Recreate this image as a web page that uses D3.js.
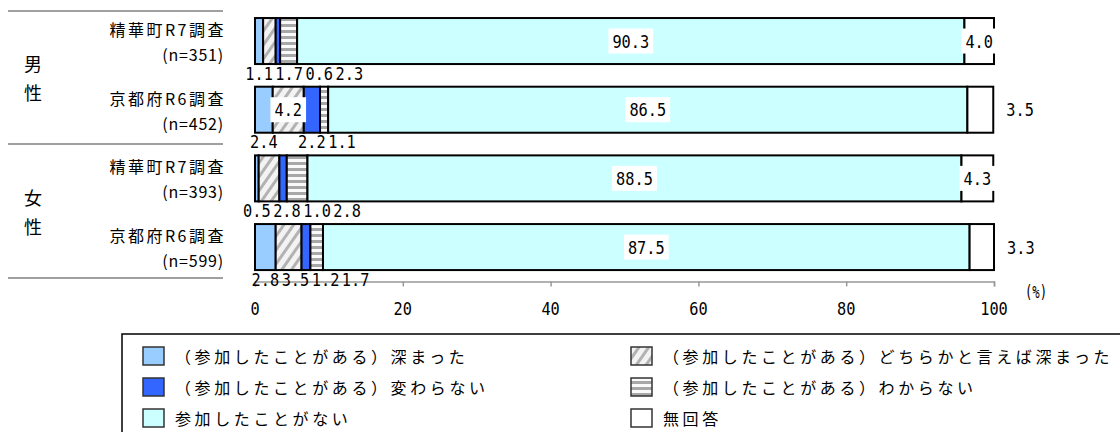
<!DOCTYPE html>
<html>
<head>
<meta charset="utf-8">
<script src="https://cdn.jsdelivr.net/npm/d3@7"></script>
<style>
  body { margin: 0; background: #fff; }
  svg { display: block; }
</style>
</head>
<body>
<div id="chart"></div>
<script>
var groups = ["男性", "女性"];
var categories = ["精華町R7調査", "京都府R6調査", "精華町R7調査", "京都府R6調査"];
var sampleSizes = ["(n=351)", "(n=452)", "(n=393)", "(n=599)"];
var seriesNames = [
  "（参加したことがある）深まった",
  "（参加したことがある）どちらかと言えば深まった",
  "（参加したことがある）変わらない",
  "（参加したことがある）わからない",
  "参加したことがない",
  "無回答"
];
var deepened         = [1.1, 2.4, 0.5, 2.8];
var somewhatDeepened = [1.7, 4.2, 2.8, 3.5];
var unchanged        = [0.6, 2.2, 1.0, 1.2];
var unknown          = [2.3, 1.1, 2.8, 1.7];
var neverJoined      = [90.3, 86.5, 88.5, 87.5];
var noAnswer         = [4.0, 3.5, 4.3, 3.3];
var xTicks = [0, 20, 40, 60, 80, 100];

var NUM_FONT = "'DejaVu Sans Mono', 'Liberation Mono', monospace";
var JP_FONT = "'Noto Sans CJK JP', 'Noto Sans', sans-serif";
var CHAR_W = 9.2; // half-width cell of the numeric labels

// tall, narrow digits like the original gothic font
var numText = function(sel, str) {
  return sel.style("font-family", NUM_FONT)
            .style("font-size", "18px")
            .attr("dominant-baseline", "central")
            .attr("fill", "#000")
            .attr("textLength", str.length * CHAR_W)
            .attr("lengthAdjust", "spacingAndGlyphs")
            .text(str);
};

var draw = function() {
  var width = 1120, height = 432;
  var series = [deepened, somewhatDeepened, unchanged, unknown, neverJoined, noAnswer];
  var fills = ["#99ccff", "url(#diag)", "#3366ff", "url(#hstripe)", "#ccffff", "#ffffff"];

  var svg = d3.select("#chart").append("svg")
              .attr("width", width)
              .attr("height", height);

  // patterns for the two hatched series
  var defs = svg.append("defs");
  var diag = defs.append("pattern")
                 .attr("id", "diag")
                 .attr("patternUnits", "userSpaceOnUse")
                 .attr("width", 8).attr("height", 8)
                 .attr("patternTransform", "rotate(35)");
  diag.append("rect").attr("width", 8).attr("height", 8).attr("fill", "#f3f3f3");
  diag.append("rect").attr("width", 3).attr("height", 8).attr("fill", "#b2b2b2");
  var hs = defs.append("pattern")
               .attr("id", "hstripe")
               .attr("patternUnits", "userSpaceOnUse")
               .attr("width", 6).attr("height", 6);
  hs.append("rect").attr("width", 6).attr("height", 6).attr("fill", "#fafafa");
  hs.append("rect").attr("width", 6).attr("height", 3).attr("fill", "#a8a8a8");

  var x = d3.scaleLinear().domain([0, 100]).range([255, 994]);
  var y = d3.scaleBand()
            .domain(d3.range(categories.length))
            .range([6.7, 281.4])
            .paddingInner(0.33)
            .paddingOuter(0.165);
  var bw = y.bandwidth();

  var rows = categories.map(function(c, i) {
    var r = {};
    series.forEach(function(s, j) { r[j] = s[i]; });
    return r;
  });
  var stacked = d3.stack().keys(d3.range(series.length))(rows);

  // bars
  svg.append("g").selectAll("g")
    .data(stacked)
    .join("g")
      .attr("fill", function(d, j) { return fills[j]; })
    .selectAll("rect")
    .data(function(d) { return d; })
    .join("rect")
      .attr("x", function(d) { return x(d[0]); })
      .attr("y", function(d, i) { return y(i); })
      .attr("width", function(d) { return x(d[1]) - x(d[0]); })
      .attr("height", bw)
      .attr("stroke", "#000")
      .attr("stroke-width", 2);

  // separators on the left
  var sepY = [y(0) - 7, (y(1) + bw + y(2)) / 2, y(3) + bw + 8];
  svg.append("g").selectAll("line")
    .data(sepY)
    .join("line")
      .attr("x1", 8).attr("x2", 223)
      .attr("y1", function(d) { return d; })
      .attr("y2", function(d) { return d; })
      .attr("stroke", "#808080")
      .attr("stroke-width", 1.5);

  // group labels, written vertically
  groups.forEach(function(g, k) {
    var cy = (sepY[k] + sepY[k + 1]) / 2;
    svg.append("g").selectAll("text")
      .data(g.split(""))
      .join("text")
        .attr("x", 33)
        .attr("y", function(d, n) { return cy + (n - 0.5) * 29; })
        .attr("text-anchor", "middle")
        .attr("dominant-baseline", "central")
        .style("font-family", JP_FONT)
        .style("font-size", "18px")
        .attr("fill", "#000")
        .text(function(d) { return d; });
  });

  // category labels
  categories.forEach(function(c, i) {
    var cy = y(i) + bw / 2;
    svg.append("text")
       .attr("x", 226).attr("y", cy - 12)
       .attr("text-anchor", "end")
       .attr("dominant-baseline", "central")
       .style("font-family", JP_FONT)
       .style("font-size", "16px")
       .style("letter-spacing", "2.5px")
       .text(c);
    svg.append("text")
       .attr("x", 224).attr("y", cy + 13)
       .attr("text-anchor", "end")
       .attr("dominant-baseline", "central")
       .style("font-family", JP_FONT)
       .style("font-size", "16px")
       .style("letter-spacing", "0.8px")
       .text(sampleSizes[i]);
  });

  // axis
  var axisY = y.range()[1];
  var axis = svg.append("g")
                .attr("transform", "translate(0," + axisY + ")")
                .call(d3.axisBottom(x).tickValues(xTicks).tickSize(5).tickSizeOuter(5).tickFormat(""));
  axis.select(".domain").attr("stroke", "#999").attr("stroke-width", 1.5);
  axis.selectAll(".tick line").attr("stroke", "#999").attr("stroke-width", 1.5);
  svg.append("g").selectAll("text")
    .data(xTicks)
    .join("text")
      .attr("x", function(d) { return x(d); })
      .attr("y", axisY + 27)
      .attr("text-anchor", "middle")
      .each(function(d) { numText(d3.select(this), String(d)); });
  numText(svg.append("text"), "(%)")
     .attr("x", x(100) + 42).attr("y", axisY + 10)
     .attr("text-anchor", "middle")
     .attr("textLength", 22);

  // value labels
  var labels = svg.append("g");
  var fmt = d3.format(".1f");
  categories.forEach(function(c, i) {
    var prev = null;
    stacked.forEach(function(s, j) {
      var v = series[j][i];
      var d = s[i];
      var str = fmt(v);
      var w = str.length * CHAR_W;
      var cx = (x(d[0]) + x(d[1])) / 2;
      var cy = y(i) + bw / 2;
      if (v >= 4) {
        // big values sit inside the bar on a white box
        var g = labels.append("g");
        g.append("rect")
         .attr("x", cx - w / 2 - 4).attr("y", cy - 12.5)
         .attr("width", w + 8).attr("height", 25)
         .attr("fill", "#fff");
        numText(g.append("text"), str)
          .attr("x", cx).attr("y", cy)
          .attr("text-anchor", "middle");
      } else if (j === series.length - 1) {
        numText(labels.append("text"), str)
          .attr("x", x(d[1]) + 13).attr("y", cy)
          .attr("text-anchor", "start");
      } else {
        // small values go under the bar, pushed right so they don't overlap
        var px = cx;
        if (prev !== null) px = Math.max(cx, prev + w + 2.5);
        numText(labels.append("text"), str)
          .attr("x", px).attr("y", y(i) + bw + 9)
          .attr("text-anchor", "middle");
        prev = px;
      }
    });
  });

  // legend
  var legend = svg.append("g");
  legend.append("rect")
        .attr("x", 122).attr("y", 334)
        .attr("width", 1100).attr("height", 200)
        .attr("fill", "none")
        .attr("stroke", "#000")
        .attr("stroke-width", 1.5);
  var item = legend.selectAll("g.item")
    .data(seriesNames)
    .join("g")
      .attr("class", "item")
      .attr("transform", function(d, j) {
        var col = j % 2, row = Math.floor(j / 2);
        return "translate(" + (col === 0 ? 143 : 631) + "," + (356 + row * 31) + ")";
      });
  item.append("rect")
      .attr("x", 0).attr("y", -9)
      .attr("width", 21).attr("height", 18)
      .attr("fill", function(d, j) { return fills[j]; })
      .attr("stroke", "#333")
      .attr("stroke-width", 1.5);
  item.append("text")
      .attr("x", 32).attr("y", 0)
      .attr("dominant-baseline", "central")
      .style("font-family", JP_FONT)
      .style("font-size", "16px")
      .style("letter-spacing", "3.6px")
      .text(function(d) { return d; });
};
draw();
</script>
</body>
</html>
